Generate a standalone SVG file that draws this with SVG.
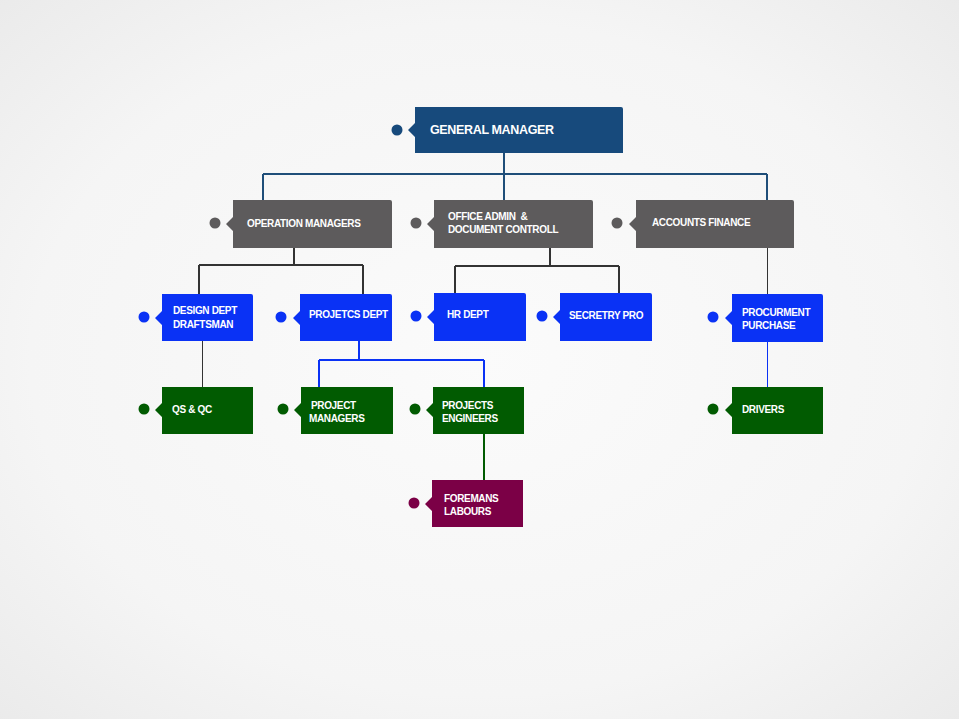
<svg xmlns="http://www.w3.org/2000/svg" width="959" height="719" viewBox="0 0 959 719">
<defs>
<radialGradient id="bg" cx="50%" cy="50%" r="72%">
<stop offset="0" stop-color="#fbfbfb"/>
<stop offset="0.65" stop-color="#f5f5f5"/>
<stop offset="1" stop-color="#eaeaea"/>
</radialGradient>
</defs>
<style>
text{font-family:"Liberation Sans",Arial,sans-serif;font-weight:bold;fill:#fff;font-size:10px;letter-spacing:-0.35px}
.gm{font-size:12.5px;letter-spacing:-0.35px}
.pre{white-space:pre}
.c-gm{fill:#174a7c}.c-gr{fill:#5d5b5c}.c-bl{fill:#0a32f5}.c-gn{fill:#015b01}.c-mr{fill:#7b0046}
.ln{fill:none}
</style>
<rect width="959" height="719" fill="url(#bg)"/>
<g id="connectors" class="ln">
<path d="M504 153V174M263 174H767M263 174V200M504 174V200M767 174V200" stroke="#1f4e79" stroke-width="2"/>
<path d="M767.5 248V294" stroke="#333" stroke-width="1"/>
<path d="M294 248V265M199 265H363M199 265V294M363 265V294" stroke="#333" stroke-width="2"/>
<path d="M550 248V266M455 266H619M455 266V293M619 266V293" stroke="#333" stroke-width="2"/>
<path d="M202.5 341V387" stroke="#333" stroke-width="1"/>
<path d="M359 341V360M319 360H484M319 360V387M484 360V387" stroke="#0a32f5" stroke-width="2"/>
<path d="M767.5 342V387" stroke="#0a32f5" stroke-width="1"/>
<path d="M484 434V480" stroke="#015b01" stroke-width="2"/>
</g>
<g id="general-manager">
<circle cx="397" cy="130" r="5.5" class="c-gm"/>
<path d="M415 107H621Q623 107 623 109V153H415V137L408 130L415 123Z" class="c-gm"/>
<text x="430" y="134" class="gm">GENERAL MANAGER</text>
</g>
<g id="operation-managers">
<circle cx="215" cy="223" r="5.5" class="c-gr"/>
<path d="M233 200H390Q392 200 392 202V248H233V231L226 224L233 217Z" class="c-gr"/>
<text x="247" y="227">OPERATION MANAGERS</text>
</g>
<g id="office-admin">
<circle cx="416" cy="223" r="5.5" class="c-gr"/>
<path d="M434 200H591Q593 200 593 202V248H434V231L427 224L434 217Z" class="c-gr"/>
<text x="448" y="220" class="pre" xml:space="preserve">OFFICE ADMIN  &amp;</text>
<text x="448" y="233">DOCUMENT CONTROLL</text>
</g>
<g id="accounts-finance">
<circle cx="617" cy="223" r="5.5" class="c-gr"/>
<path d="M636 200H792Q794 200 794 202V248H636V231L629 224L636 217Z" class="c-gr"/>
<text x="652" y="226">ACCOUNTS FINANCE</text>
</g>
<g id="design-dept">
<circle cx="144" cy="317" r="5.5" class="c-bl"/>
<path d="M162 294H251Q253 294 253 296V341H162V325L155 318L162 311Z" class="c-bl"/>
<text x="173" y="314">DESIGN DEPT</text>
<text x="173" y="328">DRAFTSMAN</text>
</g>
<g id="projetcs-dept">
<circle cx="281" cy="317" r="5.5" class="c-bl"/>
<path d="M300 294H390Q392 294 392 296V341H300V325L293 318L300 311Z" class="c-bl"/>
<text x="309" y="318">PROJETCS DEPT</text>
</g>
<g id="hr-dept">
<circle cx="416" cy="316" r="5.5" class="c-bl"/>
<path d="M434 293H524Q526 293 526 295V341H434V324L427 317L434 310Z" class="c-bl"/>
<text x="447" y="318">HR DEPT</text>
</g>
<g id="secretry-pro">
<circle cx="542" cy="316" r="5.5" class="c-bl"/>
<path d="M560 293H650Q652 293 652 295V341H560V324L553 317L560 310Z" class="c-bl"/>
<text x="569" y="319">SECRETRY PRO</text>
</g>
<g id="procurment">
<circle cx="713" cy="317" r="5.5" class="c-bl"/>
<path d="M732 294H821Q823 294 823 296V342H732V325L725 318L732 311Z" class="c-bl"/>
<text x="742" y="316">PROCURMENT</text>
<text x="742" y="329">PURCHASE</text>
</g>
<g id="qs-qc">
<circle cx="144" cy="409" r="5.5" class="c-gn"/>
<path d="M162 387H253V434H162V417L155 410L162 403Z" class="c-gn"/>
<text x="172" y="413">QS &amp; QC</text>
</g>
<g id="project-managers">
<circle cx="283" cy="409" r="5.5" class="c-gn"/>
<path d="M301 387H393V434H301V417L294 410L301 403Z" class="c-gn"/>
<text x="311" y="409">PROJECT</text>
<text x="309" y="422">MANAGERS</text>
</g>
<g id="projects-engineers">
<circle cx="415" cy="409" r="5.5" class="c-gn"/>
<path d="M433 387H524V434H433V417L426 410L433 403Z" class="c-gn"/>
<text x="442" y="409">PROJECTS</text>
<text x="442" y="422">ENGINEERS</text>
</g>
<g id="drivers">
<circle cx="713" cy="409" r="5.5" class="c-gn"/>
<path d="M732 387H823V434H732V417L725 410L732 403Z" class="c-gn"/>
<text x="742" y="413">DRIVERS</text>
</g>
<g id="foremans">
<circle cx="414" cy="503" r="5.5" class="c-mr"/>
<path d="M432 480H523V527H432V511L425 504L432 497Z" class="c-mr"/>
<text x="444" y="502">FOREMANS</text>
<text x="444" y="515">LABOURS</text>
</g>
</svg>
